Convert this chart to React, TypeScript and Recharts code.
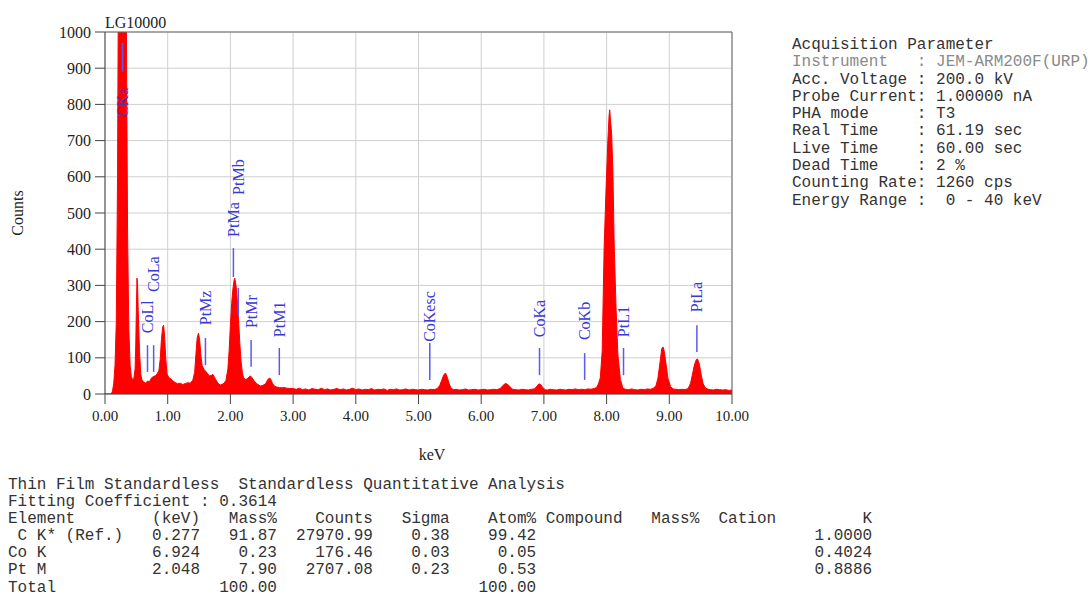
import React from "react";
import {
  ComposedChart,
  Area,
  XAxis,
  YAxis,
  CartesianGrid,
  ReferenceLine,
  ReferenceDot,
} from "recharts";

// EDS spectrum, [keV, counts]
const spectrum: [number, number][] = [
  [0, 0], [0.1, 0], [0.12, 8], [0.14, 30], [0.16, 80], [0.18, 200], [0.2, 600],
  [0.21, 1000], [0.23, 2500], [0.25, 4000], [0.27, 4500], [0.29, 4000], [0.31, 2600],
  [0.33, 1400], [0.345, 900], [0.36, 450], [0.38, 180], [0.4, 80], [0.42, 48], [0.44, 40],
  [0.46, 42], [0.48, 70], [0.49, 130], [0.5, 230], [0.51, 320], [0.52, 300], [0.53, 230],
  [0.55, 120], [0.57, 55], [0.59, 38], [0.62, 33], [0.65, 30], [0.68, 36], [0.71, 34],
  [0.74, 44], [0.77, 48], [0.8, 50], [0.83, 55], [0.86, 65], [0.88, 95], [0.9, 150],
  [0.92, 185], [0.935, 190], [0.95, 160], [0.97, 95], [0.99, 55], [1.02, 45], [1.05, 42],
  [1.08, 36], [1.12, 32], [1.16, 28], [1.2, 30], [1.24, 26], [1.28, 29], [1.32, 31],
  [1.36, 30], [1.4, 38], [1.43, 60], [1.45, 110], [1.47, 155], [1.49, 168], [1.51, 150],
  [1.53, 105], [1.55, 78], [1.58, 68], [1.61, 62], [1.64, 55], [1.67, 50], [1.7, 52],
  [1.72, 54], [1.75, 45], [1.78, 36], [1.81, 28], [1.84, 25], [1.87, 27], [1.9, 30],
  [1.93, 38], [1.96, 70], [1.98, 120], [2.0, 190], [2.02, 250], [2.04, 290], [2.06, 315],
  [2.07, 320], [2.09, 300], [2.11, 260], [2.13, 205], [2.15, 140], [2.17, 90], [2.19, 60],
  [2.21, 45], [2.24, 40], [2.27, 42], [2.3, 48], [2.32, 50], [2.35, 44], [2.38, 36],
  [2.41, 30], [2.44, 26], [2.48, 22], [2.52, 24], [2.56, 28], [2.59, 38], [2.62, 44],
  [2.64, 42], [2.67, 30], [2.7, 22], [2.74, 19], [2.78, 18], [2.82, 17], [2.86, 18],
  [2.9, 16], [2.95, 15], [3.0, 15], [3.05, 13], [3.1, 16], [3.15, 12], [3.2, 14],
  [3.25, 11], [3.3, 15], [3.35, 13], [3.4, 12], [3.45, 16], [3.5, 12], [3.55, 14],
  [3.6, 11], [3.65, 13], [3.7, 15], [3.75, 12], [3.8, 14], [3.85, 11], [3.9, 13],
  [3.95, 16], [4.0, 12], [4.05, 14], [4.1, 11], [4.15, 13], [4.2, 12], [4.25, 15],
  [4.3, 11], [4.35, 13], [4.4, 12], [4.45, 14], [4.5, 10], [4.55, 13], [4.6, 12],
  [4.65, 14], [4.7, 11], [4.75, 12], [4.8, 14], [4.85, 11], [4.9, 13], [4.95, 12],
  [5.0, 11], [5.05, 13], [5.1, 12], [5.15, 11], [5.2, 13], [5.25, 12], [5.3, 15],
  [5.34, 24], [5.37, 38], [5.4, 52], [5.43, 58], [5.46, 46], [5.49, 28], [5.52, 16],
  [5.56, 12], [5.6, 13], [5.65, 11], [5.7, 12], [5.75, 14], [5.8, 11], [5.85, 12],
  [5.9, 13], [5.95, 11], [6.0, 12], [6.05, 13], [6.1, 11], [6.15, 12], [6.2, 13],
  [6.25, 12], [6.3, 15], [6.34, 22], [6.38, 29], [6.42, 27], [6.46, 20], [6.5, 13],
  [6.55, 12], [6.6, 11], [6.65, 13], [6.7, 12], [6.75, 11], [6.8, 13], [6.85, 14],
  [6.88, 20], [6.92, 28], [6.95, 26], [6.98, 18], [7.02, 12], [7.06, 11], [7.1, 13],
  [7.15, 12], [7.2, 11], [7.25, 13], [7.3, 12], [7.35, 11], [7.4, 13], [7.45, 12],
  [7.5, 14], [7.55, 12], [7.6, 13], [7.65, 12], [7.7, 14], [7.75, 13], [7.8, 15],
  [7.84, 18], [7.87, 28], [7.9, 45], [7.93, 120], [7.96, 400], [7.99, 560], [8.02, 700],
  [8.04, 770], [8.05, 785], [8.06, 760], [8.08, 720], [8.1, 620], [8.12, 420], [8.15, 240],
  [8.18, 110], [8.22, 40], [8.26, 16], [8.3, 13], [8.35, 12], [8.4, 14], [8.45, 12],
  [8.5, 11], [8.55, 13], [8.6, 12], [8.65, 14], [8.7, 13], [8.75, 16], [8.79, 24],
  [8.82, 45], [8.85, 85], [8.88, 125], [8.9, 130], [8.92, 118], [8.95, 80], [8.98, 42],
  [9.02, 20], [9.06, 14], [9.1, 13], [9.15, 12], [9.2, 13], [9.25, 12], [9.3, 15],
  [9.34, 30], [9.37, 55], [9.4, 80], [9.43, 95], [9.45, 97], [9.48, 82], [9.51, 52],
  [9.54, 28], [9.58, 16], [9.62, 13], [9.66, 12], [9.7, 11], [9.75, 13], [9.8, 12],
  [9.85, 11], [9.9, 12], [9.95, 10], [10.0, 11],
];

// peak markers: name, energy (keV), line bottom/top and label start (counts)
const markerNames = ["CKa", "CoLl", "CoLa", "PtMz", "PtMa", "PtMb", "PtMr", "PtM1", "CoKesc", "CoKa", "CoKb", "PtL1", "PtLa"];
const markerKeV = [0.28, 0.678, 0.776, 1.602, 2.048, 2.127, 2.33, 2.78, 5.18, 6.93, 7.65, 8.27, 9.44];
const markerBase = [890, 61, 61, 80, 323, 218, 75, 52, 39, 52, 39, 52, 116];
const markerTop = [970, 135, 135, 155, 403, 293, 149, 127, 141, 127, 113, 127, 190];
const markerLabelAt = [765, 168, 282, 190, 434, 550, 182, 157, 144, 157, 149, 157, 226];

const xTicks = [0, 1, 2, 3, 4, 5, 6, 7, 8, 9, 10];
const yTicks = [0, 100, 200, 300, 400, 500, 600, 700, 800, 900, 1000];

const acquisition = [
  "Acquisition Parameter",
  "Instrument   : JEM-ARM200F(URP)",
  "Acc. Voltage : 200.0 kV",
  "Probe Current: 1.00000 nA",
  "PHA mode     : T3",
  "Real Time    : 61.19 sec",
  "Live Time    : 60.00 sec",
  "Dead Time    : 2 %",
  "Counting Rate: 1260 cps",
  "Energy Range :  0 - 40 keV",
];

const tableElements = [" C K* (Ref.)", "Co K", "Pt M", "Total"];
const tableKeV = ["0.277", "6.924", "2.048", ""];
const tableMass = ["91.87", "0.23", "7.90", "100.00"];
const tableCounts = ["27970.99", "176.46", "2707.08", ""];
const tableSigma = ["0.38", "0.03", "0.23", ""];
const tableAtom = ["99.42", "0.05", "0.53", "100.00"];
const tableK = ["1.0000", "0.4024", "0.8886", ""];

// right-align each cell so that it ends at the given column
const line = (left: string, cells: [string, number][]) => {
  let s = left;
  for (const [t, end] of cells) {
    if (!t) continue;
    s = s.padEnd(end - t.length + 1, " ") + t;
  }
  return s;
};

const tableLines = [
  "Thin Film Standardless  Standardless Quantitative Analysis",
  "Fitting Coefficient : 0.3614",
  line("Element", [["(keV)", 19], ["Mass%", 27], ["Counts", 37], ["Sigma", 45], ["Atom%", 54], ["Compound", 63], ["Mass%", 71], ["Cation", 79], ["K", 89]]),
  ...tableElements.map((el, i) =>
    line(el, [[tableKeV[i], 19], [tableMass[i], 27], [tableCounts[i], 37], [tableSigma[i], 45], [tableAtom[i], 54], [tableK[i], 89]])
  ),
];

const data = spectrum.map(([e, c]) => ({ e, c }));

const serif = '"Liberation Serif", "Times New Roman", serif';
const mono = '"Liberation Mono", "Courier New", monospace';

const MarkerLabel = ({ cx, cy, text }: any) => (
  <text
    transform={`translate(${cx + 5.5}, ${cy}) rotate(-90)`}
    fill="#3838d8"
    fontFamily={serif}
    fontSize={16}
    textAnchor="start"
  >
    {text}
  </text>
);

export default function App() {
  return (
    <div style={{ position: "absolute", left: 0, top: 0, width: 1090, height: 597, background: "#fff" }}>
      <ComposedChart
        width={760}
        height={470}
        data={data}
        margin={{ top: 32, right: 28, bottom: 46, left: 45 }}
        style={{ position: "absolute", left: 0, top: 0 }}
      >
        <CartesianGrid stroke="#cfcfcf" />
        <XAxis
          dataKey="e"
          type="number"
          domain={[0, 10]}
          ticks={xTicks}
          allowDataOverflow
          tickFormatter={(v: number) => v.toFixed(2)}
          tick={{ fill: "#222", fontSize: 15, fontFamily: serif }}
          tickSize={10}
          tickMargin={6}
          height={30}
          stroke="#444"
        />
        <YAxis
          type="number"
          domain={[0, 1000]}
          ticks={yTicks}
          allowDataOverflow
          tick={{ fill: "#222", fontSize: 16, fontFamily: serif }}
          tickSize={10}
          tickMargin={4}
          width={60}
          stroke="#444"
        />
        <ReferenceLine y={1000} stroke="#666" />
        <ReferenceLine x={10} stroke="#666" />
        <Area
          type="linear"
          dataKey="c"
          baseValue={0}
          stroke="#ff0000"
          strokeWidth={1}
          fill="#ff0000"
          fillOpacity={1}
          dot={false}
          activeDot={false}
          isAnimationActive={false}
        />
        {markerNames.map((name, i) => (
          <ReferenceLine
            key={`l-${name}`}
            segment={[
              { x: markerKeV[i], y: markerBase[i] },
              { x: markerKeV[i], y: markerTop[i] },
            ]}
            stroke="#5a5af0"
            strokeWidth={1.5}
          />
        ))}
        {markerNames.map((name, i) => (
          <ReferenceDot
            key={`t-${name}`}
            x={markerKeV[i]}
            y={markerLabelAt[i]}
            r={0}
            shape={(p: any) => <MarkerLabel cx={p.cx} cy={p.cy} text={name} />}
          />
        ))}
      </ComposedChart>

      <div style={{ position: "absolute", left: 105, top: 14, fontFamily: serif, fontSize: 16, color: "#222", lineHeight: "18px" }}>
        LG10000
      </div>
      <div
        style={{
          position: "absolute",
          left: 18,
          top: 213,
          transform: "translate(-50%, -50%) rotate(-90deg)",
          fontFamily: serif,
          fontSize: 16,
          color: "#222",
        }}
      >
        Counts
      </div>
      <div style={{ position: "absolute", left: 432, top: 455, transform: "translate(-50%, -50%)", fontFamily: serif, fontSize: 16, color: "#222" }}>
        keV
      </div>

      <div style={{ position: "absolute", left: 792, top: 37, fontFamily: mono, fontSize: 16, lineHeight: "17.3px", color: "#333", whiteSpace: "pre" }}>
        {acquisition.map((t, i) => (
          <div key={i} style={{ color: i === 1 ? "#8a8a8a" : "#333" }}>{t}</div>
        ))}
      </div>

      <div style={{ position: "absolute", left: 8, top: 477, fontFamily: mono, fontSize: 16, lineHeight: "17.1px", color: "#333", whiteSpace: "pre" }}>
        {tableLines.map((t, i) => (
          <div key={i}>{t}</div>
        ))}
      </div>
    </div>
  );
}
